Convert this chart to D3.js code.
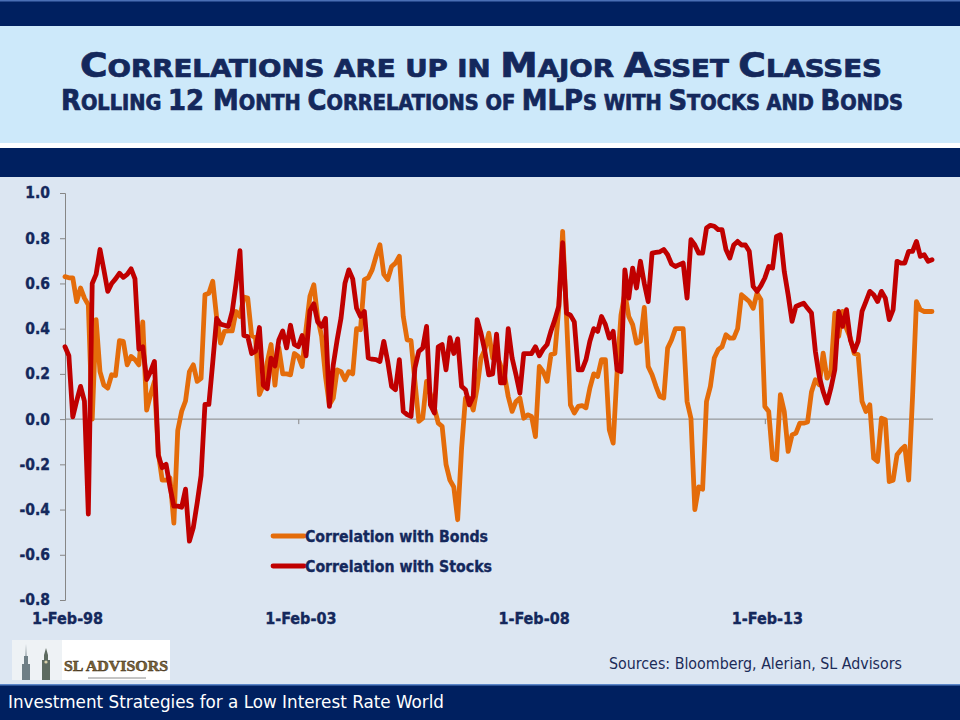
<!DOCTYPE html>
<html>
<head>
<meta charset="utf-8">
<script src="https://cdn.jsdelivr.net/npm/d3@7"></script>
<style>
  html, body { margin: 0; padding: 0; background: #ffffff; }
  svg { display: block; }
  .cond { font-family: "DejaVu Sans Condensed", "DejaVu Sans", "Liberation Sans", sans-serif; font-stretch: condensed; }
</style>
</head>
<body>
<svg id="chart" width="960" height="720"></svg>
<script>
// ---------------- DATA ----------------
const xTickIndex = [0, 60, 120, 180];
const xTickLabels = ["1-Feb-98", "1-Feb-03", "1-Feb-08", "1-Feb-13"];
const yTicks = [-0.8, -0.6, -0.4, -0.2, 0.0, 0.2, 0.4, 0.6, 0.8, 1.0];
const seriesNames = ["Correlation with Bonds", "Correlation with Stocks"];
const seriesColors = ["#E46C0A", "#C00000"];

// monthly rolling 12m correlation of MLPs with bonds (Feb-1998 ... Sep-2016)
const bonds = [
  0.63, 0.625, 0.625, 0.52, 0.58, 0.535, 0.505, 0.00, 0.44, 0.21,
  0.15, 0.137, 0.196, 0.193, 0.347, 0.344, 0.24, 0.277, 0.263, 0.24,
  0.43, 0.04, 0.108, 0.167, -0.15, -0.27, -0.27, -0.26, -0.46, -0.05,
  0.034, 0.08, 0.21, 0.24, 0.167, 0.18, 0.55, 0.557, 0.61, 0.45,
  0.336, 0.388, 0.39, 0.39, 0.476, 0.454, 0.54, 0.535, 0.37, 0.36,
  0.108, 0.15, 0.25, 0.33, 0.15, 0.315, 0.2, 0.2, 0.196, 0.29,
  0.277, 0.233, 0.40, 0.543, 0.594, 0.447, 0.366, 0.189, 0.063, 0.093,
  0.218, 0.21, 0.174, 0.21, 0.2, 0.4, 0.395, 0.617, 0.625, 0.66,
  0.72, 0.771, 0.64, 0.617, 0.675, 0.69, 0.72, 0.454, 0.35, 0.347,
  0.167, -0.01, 0.004, 0.167, 0.108, 0.05, -0.018, -0.032, -0.2, -0.27,
  -0.3, -0.445, -0.13, 0.093, 0.093, 0.04, 0.137, 0.27, 0.307, 0.38,
  0.27, 0.285, 0.24, 0.2, 0.1, 0.034, 0.078, 0.093, 0.004, 0.019,
  0.012, -0.077, 0.233, 0.21, 0.167, 0.285, 0.29, 0.49, 0.83, 0.447,
  0.063, 0.027, 0.056, 0.06, 0.05, 0.137, 0.2, 0.189, 0.263, 0.263,
  -0.047, -0.106, 0.21, 0.46, 0.557, 0.454, 0.418, 0.336, 0.344, 0.494,
  0.233, 0.196, 0.145, 0.1, 0.093, 0.314, 0.35, 0.4, 0.4, 0.4,
  0.078, 0.004, -0.4, -0.3, -0.31, 0.078, 0.145, 0.27, 0.307, 0.32,
  0.373, 0.358, 0.358, 0.4, 0.55, 0.535, 0.52, 0.49, 0.557, 0.528,
  0.056, 0.034, -0.173, -0.18, 0.108, 0.034, -0.143, -0.07, -0.062, -0.018,
  -0.018, -0.013, 0.12, 0.174, 0.152, 0.292, 0.181, 0.21, 0.469, 0.366,
  0.476, 0.40, 0.358, 0.29, 0.285, 0.078, 0.034, 0.063, -0.173, -0.187,
  0.004, -0.003, -0.276, -0.27, -0.158, -0.136, -0.12, -0.27, 0.10, 0.52,
  0.484, 0.476, 0.476, 0.476
];

// monthly rolling 12m correlation of MLPs with stocks
const stocks = [
  0.32, 0.28, 0.01, 0.08, 0.145, 0.08, -0.42, 0.60, 0.64, 0.75,
  0.66, 0.565, 0.60, 0.62, 0.645, 0.627, 0.64, 0.665, 0.62, 0.31,
  0.32, 0.175, 0.21, 0.255, -0.16, -0.215, -0.20, -0.30, -0.385, -0.385,
  -0.39, -0.31, -0.54, -0.48, -0.37, -0.25, 0.065, 0.065, 0.25, 0.445,
  0.42, 0.415, 0.41, 0.475, 0.60, 0.745, 0.37, 0.365, 0.29, 0.30,
  0.405, 0.15, 0.135, 0.27, 0.235, 0.35, 0.39, 0.315, 0.415, 0.33,
  0.32, 0.37, 0.28, 0.48, 0.51, 0.43, 0.41, 0.445, 0.056, 0.24,
  0.35, 0.447, 0.60, 0.66, 0.62, 0.49, 0.454, 0.476, 0.27, 0.265,
  0.263, 0.255, 0.344, 0.255, 0.145, 0.13, 0.263, 0.034, 0.02, 0.012,
  0.226, 0.30, 0.314, 0.41, 0.063, 0.027, 0.32, 0.33, 0.218, 0.36,
  0.29, 0.355, 0.145, 0.13, 0.063, 0.10, 0.44, 0.38, 0.30, 0.196,
  0.20, 0.376, 0.16, 0.16, 0.40, 0.27, 0.196, 0.115, 0.29, 0.29,
  0.29, 0.32, 0.28, 0.31, 0.33, 0.39, 0.44, 0.50, 0.78, 0.469,
  0.46, 0.43, 0.218, 0.218, 0.263, 0.344, 0.40, 0.388, 0.454, 0.418,
  0.358, 0.388, 0.218, 0.21, 0.66, 0.535, 0.668, 0.58, 0.698, 0.60,
  0.52, 0.734, 0.737, 0.74, 0.75, 0.727, 0.686, 0.675, 0.683, 0.69,
  0.535, 0.794, 0.77, 0.734, 0.734, 0.845, 0.857, 0.853, 0.838, 0.838,
  0.75, 0.712, 0.77, 0.786, 0.77, 0.77, 0.742, 0.587, 0.565, 0.59,
  0.624, 0.675, 0.668, 0.808, 0.815, 0.653, 0.55, 0.432, 0.498, 0.506,
  0.513, 0.49, 0.469, 0.30, 0.189, 0.122, 0.071, 0.137, 0.218, 0.476,
  0.41, 0.484, 0.35, 0.30, 0.344, 0.476, 0.52, 0.565, 0.55, 0.52,
  0.565, 0.535, 0.44, 0.484, 0.698, 0.69, 0.69, 0.742, 0.742, 0.786,
  0.72, 0.727, 0.698, 0.705
];

const titleLine1 = [["C",1],["ORRELATIONS ARE UP IN ",0],["M",1],["AJOR ",0],["A",1],["SSET ",0],["C",1],["LASSES",0]];
const titleLine2 = [["R",1],["OLLING ",0],["12 M",1],["ONTH ",0],["C",1],["ORRELATIONS  OF ",0],["MLP",1],["S WITH ",0],["S",1],["TOCKS AND ",0],["B",1],["ONDS",0]];
const sourceText = "Sources: Bloomberg, Alerian, SL Advisors";
const footerText = "Investment Strategies for a Low Interest Rate World";
const logoText = "SL ADVISORS";

// ---------------- DRAW ----------------
const svg = d3.select("#chart");
const navy = "#002060";
const textNavy = "#14285c";

// backgrounds
svg.append("rect").attr("x",0).attr("y",0).attr("width",960).attr("height",720).attr("fill","#DCE6F2");
svg.append("rect").attr("x",0).attr("y",0).attr("width",960).attr("height",26).attr("fill",navy);
svg.append("rect").attr("x",0).attr("y",0).attr("width",960).attr("height",1.5).attr("fill","#4a6fb5");
svg.append("rect").attr("x",0).attr("y",26).attr("width",960).attr("height",117).attr("fill","#CDE9FA");
svg.append("rect").attr("x",0).attr("y",143).attr("width",960).attr("height",5).attr("fill","#ffffff");
svg.append("rect").attr("x",0).attr("y",148).attr("width",960).attr("height",29).attr("fill",navy);
svg.append("rect").attr("x",0).attr("y",684).attr("width",960).attr("height",36).attr("fill",navy);
svg.append("rect").attr("x",0).attr("y",684).attr("width",960).attr("height",1.5).attr("fill","#5b86c9");

// title
function smallCaps(parts, x, y, bigSize, smallSize, width) {
  const t = svg.append("text").attr("class","cond")
    .attr("x", x).attr("y", y)
    .attr("text-anchor","middle")
    .attr("font-weight","bold").attr("fill", textNavy)
    .attr("stroke", textNavy).attr("stroke-width", 0.7)
    .attr("textLength", width).attr("lengthAdjust","spacingAndGlyphs");
  parts.forEach(([s, big]) => {
    t.append("tspan").attr("font-size", big ? bigSize : smallSize).text(s);
  });
}
smallCaps(titleLine1, 481, 77, 34, 25, 802);
smallCaps(titleLine2, 482, 110, 28, 21, 842);

// scales
const N = stocks.length;
const x = d3.scaleLinear().domain([0, N - 1]).range([65, 932]);
const y = d3.scaleLinear().domain([-0.8, 1.0]).range([600, 193]);

// y axis
const yAxis = d3.axisLeft(y).tickValues(yTicks).tickFormat(d3.format(".1f")).tickSize(5).tickPadding(10);
const gy = svg.append("g").attr("transform","translate(65,0)").call(yAxis);
gy.select(".domain").attr("stroke","#868686").attr("stroke-width",1);
gy.selectAll(".tick line").attr("stroke","#868686");
gy.selectAll(".tick text").attr("class","cond")
  .attr("font-size",15.5).attr("font-weight","bold").attr("fill",textNavy)
  .attr("stroke",textNavy).attr("stroke-width",0.35)
  .text(d => d3.format(".1f")(d).replace("−","-"));

// x axis line at zero with tick marks
const xAxis = d3.axisBottom(x).tickValues(xTickIndex).tickFormat("").tickSize(5);
const gx = svg.append("g").attr("transform",`translate(0,${y(0)})`).call(xAxis);
gx.select(".domain").attr("stroke","#868686").attr("stroke-width",1).attr("d", `M${x(0)},0H${x(N-1)+1}`);
gx.selectAll(".tick line").attr("stroke","#868686");

// x labels at low position
const xLab = d3.axisBottom(x).tickValues(xTickIndex).tickFormat((d,i) => xTickLabels[i]).tickSize(0).tickPadding(0);
const gxl = svg.append("g").attr("transform","translate(2,613)").call(xLab);
gxl.select(".domain").remove();
gxl.selectAll(".tick text").attr("class","cond")
  .attr("font-size",16).attr("font-weight","bold").attr("fill",textNavy)
  .attr("stroke",textNavy).attr("stroke-width",0.35);

// lines
const line = d3.line().x((d,i) => x(i)).y(d => y(d)).curve(d3.curveLinear);
[bonds, stocks].forEach((s, k) => {
  svg.append("path").datum(s)
    .attr("d", line)
    .attr("fill","none")
    .attr("stroke", seriesColors[k])
    .attr("stroke-width", 4.8)
    .attr("stroke-linejoin","round")
    .attr("stroke-linecap","round");
});

// legend
const legY = [536, 566];
seriesNames.forEach((name, k) => {
  svg.append("line").attr("x1",273).attr("x2",304).attr("y1",legY[k]).attr("y2",legY[k])
    .attr("stroke",seriesColors[k]).attr("stroke-width",4.8).attr("stroke-linecap","round");
  svg.append("text").attr("class","cond")
    .attr("x",305).attr("y",legY[k] + 6)
    .attr("font-size",16.5).attr("font-weight","bold").attr("fill",textNavy)
    .attr("stroke",textNavy).attr("stroke-width",0.35)
    .attr("textLength", k === 0 ? 183 : 187).attr("lengthAdjust","spacingAndGlyphs")
    .text(name);
});

// sources
svg.append("text").attr("class","cond")
  .attr("x",609).attr("y",669)
  .attr("font-size",16).attr("fill","#1b2b58")
  .attr("textLength",293).attr("lengthAdjust","spacingAndGlyphs")
  .text(sourceText);

// footer
svg.append("text").attr("class","cond")
  .attr("x",8).attr("y",708)
  .attr("font-size",18).attr("fill","#ffffff")
  .attr("textLength",436).attr("lengthAdjust","spacingAndGlyphs")
  .text(footerText);

// logo
const logo = svg.append("g");
logo.append("rect").attr("x",12).attr("y",640).attr("width",158).attr("height",40).attr("fill","#ffffff");
logo.append("rect").attr("x",12).attr("y",640).attr("width",50).attr("height",40).attr("fill","#eef2f5");
logo.append("path").attr("d","M22,680 L22,664 L24,664 L24,656 L25.5,656 L26,644 L26.5,656 L28,656 L28,664 L30,664 L30,680 Z").attr("fill","#6f7f86");
logo.append("path").attr("d","M42,680 L42,660 L44,660 L44,655 L46,648 L48,655 L48,660 L50,660 L50,680 Z").attr("fill","#5d6b60");
logo.append("circle").attr("cx",46).attr("cy",662).attr("r",1.6).attr("fill","#d8d0a8");
logo.append("text")
  .attr("x",64).attr("y",671)
  .attr("font-family","'Liberation Serif', 'DejaVu Serif', serif")
  .attr("font-weight","bold").attr("font-size",14)
  .attr("fill","#7a6238").attr("stroke","#3a2c16").attr("stroke-width",0.4)
  .attr("textLength",104).attr("lengthAdjust","spacingAndGlyphs")
  .text(logoText);
logo.append("line").attr("x1",88).attr("x2",146).attr("y1",678).attr("y2",678).attr("stroke","#8a8a8a").attr("stroke-width",1);
</script>
</body>
</html>
